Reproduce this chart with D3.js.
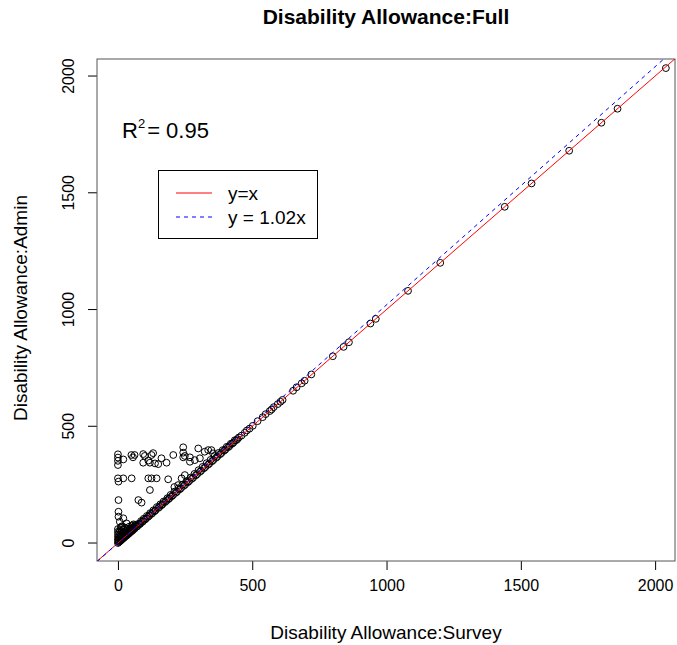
<!DOCTYPE html>
<html>
<head>
<meta charset="utf-8">
<script src="https://cdn.jsdelivr.net/npm/d3@7"></script>
<style>
  html, body { margin: 0; padding: 0; background: #fff; }
  svg { display: block; font-family: "Liberation Sans", Arial, sans-serif; }
</style>
</head>
<body>
<svg id="chart" width="677" height="645"></svg>
<script>
// Records close to the identity line (survey vs admin amounts)
const diagSurvey = [2,5,8,10,12,15,18,20,22,25,28,30,33,35,38,40,43,45,48,50,53,55,58,60,63,66,70,73,76,80,83,86,90,93,96,100,104,108,112,116,120,124,128,132,136,140,145,150,154,158,162,166,170,175,180,184,188,192,196,200,205,210,215,220,225,230,235,240,245,250,255,260,265,270,275,280,285,290,295,300,305,310,315,320,325,330,335,340,345,350,355,360,365,370,375,380,385,390,395,400,405,410,415,420,425,430,435,440,445,450,460,472,480,490,502,520,539,550,565,572,580,595,605,613,652,665,684,695,720,800,840,860,940,960,1080,1200,1440,1540,1680,1800,1860,2040];
const diagAdmin  = [4,5,12,10,16,15,22,20,28,25,34,30,33,42,38,40,50,45,48,56,53,55,66,60,63,74,70,73,82,80,83,94,90,93,104,100,104,116,112,116,128,124,128,140,136,140,154,150,154,166,162,166,178,175,180,192,188,192,206,200,205,220,215,220,234,230,235,250,245,250,264,260,265,280,275,280,296,290,295,312,305,310,326,320,325,342,335,340,356,350,355,372,365,370,386,380,385,398,395,400,412,410,415,425,425,430,440,440,445,452,460,472,482,490,502,522,539,552,565,572,582,595,605,613,652,667,684,695,722,800,840,860,940,960,1080,1200,1440,1540,1680,1800,1860,2034];

// Small amounts clustered near the origin
const lowSurvey = [0,0,0,0,0,0,2,3,5,5,6,8,8,10,10,12,12,14,15,16,18,20,20,22,24,25,26,28,30,30,32,35,35,38,40,42,45,48,50,52,55,58,60,65];
const lowAdmin  = [0,12,24,36,48,60,15,25,45,8,33,55,20,12,65,38,28,50,18,72,42,25,58,35,48,30,66,40,52,36,44,60,42,50,48,70,55,62,58,75,65,80,70,78];

// Records where the admin amount is well above the survey amount
const offSurvey = [0,0,0,0,20,50,62,56,94,100,125,131,94,113,119,138,150,162,181,206,243,243,243,249,268,268,286,299,305,323,336,348,354,0,2,20,51,113,125,144,187,237,249,119,2,76,88,2,2,7,20,32,13,224,210];
const offAdmin   = [380,366,352,334,358,377,377,367,381,373,377,385,344,353,344,341,338,363,344,377,410,387,367,373,367,348,355,405,363,391,398,398,384,277,263,277,277,277,277,277,273,277,291,227,184,184,173,134,113,91,106,84,70,248,240];

const xTicks = [0, 500, 1000, 1500, 2000];
const yTicks = [0, 500, 1000, 1500, 2000];
const rSquared = 0.95;
const fitSlope = 1.02;
const legendLabels = ["y=x", "y = 1.02x"];

const svg = d3.select("#chart");
const box = { left: 97, right: 675, top: 59, bottom: 561 };

const x = d3.scaleLinear().domain([-78, 2074]).range([box.left, box.right]);
const y = d3.scaleLinear().domain([-77, 2073]).range([box.bottom, box.top]);

svg.append("defs").append("clipPath").attr("id", "plotClip")
  .append("rect")
  .attr("x", box.left).attr("y", box.top)
  .attr("width", box.right - box.left).attr("height", box.bottom - box.top);

// Title and axis titles
svg.append("text")
  .attr("x", 386).attr("y", 24)
  .attr("text-anchor", "middle")
  .attr("font-weight", "bold").attr("font-size", 21)
  .text("Disability Allowance:Full");

svg.append("text")
  .attr("x", 386).attr("y", 639)
  .attr("text-anchor", "middle").attr("font-size", 19)
  .text("Disability Allowance:Survey");

svg.append("text")
  .attr("transform", "translate(27,308) rotate(-90)")
  .attr("text-anchor", "middle").attr("font-size", 19)
  .text("Disability Allowance:Admin");

// Axes
const xAxis = d3.axisBottom(x).tickValues(xTicks).tickSize(9).tickPadding(10).tickFormat(d3.format("d"));
const gx = svg.append("g").attr("transform", `translate(0,${box.bottom})`).call(xAxis);
gx.select(".domain").remove();
gx.selectAll("text").attr("font-size", 16).attr("font-family", "Liberation Sans, Arial, sans-serif").attr("fill", "#000");
gx.selectAll("line").attr("stroke", "#000");

const yAxis = d3.axisLeft(y).tickValues(yTicks).tickSize(9).tickPadding(0).tickFormat(d3.format("d"));
const gy = svg.append("g").attr("transform", `translate(${box.left},0)`).call(yAxis);
gy.select(".domain").remove();
gy.selectAll("line").attr("stroke", "#000");
gy.selectAll("text")
  .attr("font-size", 16).attr("font-family", "Liberation Sans, Arial, sans-serif").attr("fill", "#000")
  .attr("x", null).attr("dy", null)
  .attr("text-anchor", "middle")
  .attr("transform", d => `translate(-23,${y(d)}) rotate(-90)`)
  .attr("y", 0);
gy.selectAll(".tick").attr("transform", null);
gy.selectAll(".tick line").attr("transform", d => `translate(0,${y(d)})`);

// Plot frame
svg.append("rect")
  .attr("x", box.left).attr("y", box.top)
  .attr("width", box.right - box.left).attr("height", box.bottom - box.top)
  .attr("fill", "none").attr("stroke", "#555").attr("stroke-width", 1);

const plot = svg.append("g").attr("clip-path", "url(#plotClip)");

// Data points as open circles
const pts = [];
diagSurvey.forEach((v, i) => pts.push([v, diagAdmin[i]]));
lowSurvey.forEach((v, i) => pts.push([v, lowAdmin[i]]));
offSurvey.forEach((v, i) => pts.push([v, offAdmin[i]]));

plot.selectAll("circle").data(pts).join("circle")
  .attr("cx", d => x(d[0])).attr("cy", d => y(d[1]))
  .attr("r", 3.4)
  .attr("fill", "none").attr("stroke", "#000").attr("stroke-width", 1);

// Reference lines
const lineDomain = [-100, 2200];
plot.append("line")
  .attr("x1", x(lineDomain[0])).attr("y1", y(lineDomain[0]))
  .attr("x2", x(lineDomain[1])).attr("y2", y(lineDomain[1]))
  .attr("stroke", "#ff0000").attr("stroke-width", 1);

plot.append("line")
  .attr("x1", x(lineDomain[0])).attr("y1", y(lineDomain[0] * fitSlope))
  .attr("x2", x(lineDomain[1])).attr("y2", y(lineDomain[1] * fitSlope))
  .attr("stroke", "#0000ff").attr("stroke-width", 1).attr("stroke-dasharray", "4,4");

// R-squared annotation
const rt = svg.append("text").attr("x", 122).attr("y", 138).attr("font-size", 22);
rt.append("tspan").text("R");
rt.append("tspan").attr("font-size", 13).attr("dy", -10).text("2");
rt.append("tspan").attr("dy", 10).attr("dx", 2).text("= " + rSquared.toFixed(2));

// Legend
const lg = svg.append("g");
lg.append("rect").attr("x", 158.5).attr("y", 170.5).attr("width", 159).attr("height", 68)
  .attr("fill", "#fff").attr("stroke", "#000").attr("stroke-width", 1);
lg.append("line").attr("x1", 176).attr("x2", 212).attr("y1", 193).attr("y2", 193)
  .attr("stroke", "#ff0000").attr("stroke-width", 1);
lg.append("line").attr("x1", 176).attr("x2", 212).attr("y1", 217).attr("y2", 217)
  .attr("stroke", "#0000ff").attr("stroke-width", 1).attr("stroke-dasharray", "4,4");
lg.selectAll("text.lab").data(legendLabels).join("text")
  .attr("class", "lab")
  .attr("x", 228).attr("y", (d, i) => 200 + i * 24)
  .attr("font-size", 19).text(d => d);
</script>
</body>
</html>
